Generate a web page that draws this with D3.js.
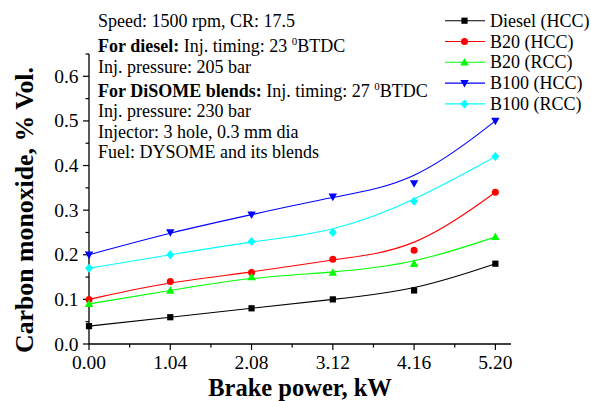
<!DOCTYPE html>
<html>
<head>
<meta charset="utf-8">
<script src="https://cdn.jsdelivr.net/npm/d3@7"></script>
<style>
  body { margin: 0; background: #fff; }
  svg { display: block; font-family: "Liberation Serif", "Times New Roman", serif; }
</style>
</head>
<body>
<svg id="chart" width="591" height="401"></svg>
<script>
// ===== DATA =====
const power = [0.00, 1.04, 2.08, 3.12, 4.16, 5.20];
const xTickLabels = ['0.00', '1.04', '2.08', '3.12', '4.16', '5.20'];
const yTicks = [0.0, 0.1, 0.2, 0.3, 0.4, 0.5, 0.6];

const dieselHCC = [0.04, 0.06, 0.08, 0.10, 0.12, 0.18];
const b20HCC    = [0.10, 0.14, 0.16, 0.19, 0.21, 0.34];
const b20RCC    = [0.09, 0.12, 0.15, 0.16, 0.18, 0.24];
const b100HCC   = [0.20, 0.25, 0.29, 0.33, 0.36, 0.50];
const b100RCC   = [0.17, 0.20, 0.23, 0.25, 0.32, 0.42];

const seriesNames = ['Diesel (HCC)', 'B20 (HCC)', 'B20 (RCC)', 'B100 (HCC)', 'B100 (RCC)'];
const seriesColors = ['#000000', '#ff0000', '#00ff00', '#0000ff', '#00ffff'];
const seriesSymbols = ['square', 'circle', 'triUp', 'triDown', 'diamond'];

const series = [dieselHCC, b20HCC, b20RCC, b100HCC, b100RCC].map((v, i) => ({
    name: seriesNames[i], color: seriesColors[i], symbol: seriesSymbols[i], values: v
}));

// ===== LAYOUT =====
const svg = d3.select('#chart');
const x = d3.scaleLinear().domain([0, 5.4]).range([89, 511]);
const y = d3.scaleLinear().domain([0, 0.65]).range([344, 54]);

// B-spline through the points (ends clamped), like the original smoothed lines
const line = d3.line().x((d, i) => x(power[i])).y(d => y(d)).curve(d3.curveBasis);

// ===== AXES =====
const xAxis = svg.append('g').attr('transform', 'translate(0,344)');
xAxis.append('line').attr('x1', x.range()[0]).attr('x2', x.range()[1])
    .attr('stroke', '#000').attr('stroke-width', 1.3);
d3.range(0, 5.4, 0.52).forEach((t, i) => {
    xAxis.append('line').attr('x1', x(t)).attr('x2', x(t))
        .attr('y1', 0).attr('y2', i % 2 === 0 ? 6 : 3.5)
        .attr('stroke', '#000').attr('stroke-width', 1.2);
});
xAxis.selectAll('text.tick').data(power).enter().append('text')
    .attr('x', d => x(d)).attr('y', 24.5)
    .attr('text-anchor', 'middle').attr('font-size', 19.5)
    .text((d, i) => xTickLabels[i]);

const yAxis = svg.append('g').attr('transform', 'translate(89,0)');
yAxis.append('line').attr('y1', y.range()[0]).attr('y2', y.range()[1])
    .attr('stroke', '#000').attr('stroke-width', 1.3);
d3.range(0, 0.651, 0.05).forEach((t, i) => {
    yAxis.append('line').attr('y1', y(t)).attr('y2', y(t))
        .attr('x1', 0).attr('x2', i % 2 === 0 ? -6 : -3.5)
        .attr('stroke', '#000').attr('stroke-width', 1.2);
});
yAxis.selectAll('text.tick').data(yTicks).enter().append('text')
    .attr('x', -10.5).attr('y', d => y(d) + 6.5)
    .attr('text-anchor', 'end').attr('font-size', 19.5)
    .text(d => d.toFixed(1));

svg.append('text')
    .attr('x', 300).attr('y', 396)
    .attr('text-anchor', 'middle').attr('font-size', 24.5).attr('font-weight', 'bold')
    .text('Brake power, kW');

svg.append('text')
    .attr('transform', 'translate(33,210) rotate(-90)')
    .attr('text-anchor', 'middle').attr('font-size', 25.8).attr('font-weight', 'bold')
    .text('Carbon monoxide, % Vol.');

// ===== SYMBOLS =====
function drawSymbol(g, type, cx, cy, color) {
    if (type === 'square') {
        g.append('rect').attr('x', cx - 3.1).attr('y', cy - 3.1).attr('width', 6.2).attr('height', 6.2).attr('fill', color);
    } else if (type === 'circle') {
        g.append('circle').attr('cx', cx).attr('cy', cy).attr('r', 3.5).attr('fill', color);
    } else if (type === 'triUp') {
        g.append('path').attr('d', `M${cx},${cy - 4.4}L${cx + 4.2},${cy + 3.2}L${cx - 4.2},${cy + 3.2}Z`).attr('fill', color);
    } else if (type === 'triDown') {
        g.append('path').attr('d', `M${cx},${cy + 4.4}L${cx + 4.2},${cy - 3.2}L${cx - 4.2},${cy - 3.2}Z`).attr('fill', color);
    } else if (type === 'diamond') {
        g.append('path').attr('d', `M${cx},${cy - 4.5}L${cx + 4},${cy}L${cx},${cy + 4.5}L${cx - 4},${cy}Z`).attr('fill', color);
    }
}

// ===== SERIES =====
series.forEach(s => {
    svg.append('path').datum(s.values).attr('d', line)
        .attr('fill', 'none').attr('stroke', s.color).attr('stroke-width', 1.1);
});
series.forEach(s => {
    const g = svg.append('g');
    s.values.forEach((v, i) => drawSymbol(g, s.symbol, x(power[i]), y(v), s.color));
});

// ===== LEGEND =====
const legend = svg.append('g');
series.forEach((s, i) => {
    const ly = 20.7 + i * 20.8;
    legend.append('line').attr('x1', 445).attr('x2', 485).attr('y1', ly).attr('y2', ly)
        .attr('stroke', s.color).attr('stroke-width', 1.1);
    drawSymbol(legend, s.symbol, 464.5, ly, s.color);
    legend.append('text').attr('x', 490).attr('y', ly + 6)
        .attr('font-size', 18).text(s.name);
});

// ===== ANNOTATION =====
const note = svg.append('g').attr('font-size', 18);
const noteLines = [
    [{ t: 'Speed: 1500 rpm, CR: 17.5' }],
    [{ t: 'For diesel:', b: true }, { t: ' Inj. timing: 23 ' }, { t: '0', sup: true }, { t: 'BTDC', down: true }],
    [{ t: 'Inj. pressure: 205 bar' }],
    [{ t: 'For DiSOME blends:', b: true }, { t: ' Inj. timing: 27 ' }, { t: '0', sup: true }, { t: 'BTDC', down: true }],
    [{ t: 'Inj. pressure: 230 bar' }],
    [{ t: 'Injector: 3 hole, 0.3 mm dia' }],
    [{ t: 'Fuel: DYSOME and its blends' }]
];
const noteY = [27, 52, 73, 97, 117, 138, 158];
noteLines.forEach((parts, i) => {
    const txt = note.append('text').attr('x', 98).attr('y', noteY[i]);
    parts.forEach(p => {
        const ts = txt.append('tspan').text(p.t);
        if (p.b) ts.attr('font-weight', 'bold');
        if (p.sup) ts.attr('font-size', 11).attr('dy', -7);
        if (p.down) ts.attr('dy', 7);
    });
});
</script>
</body>
</html>
